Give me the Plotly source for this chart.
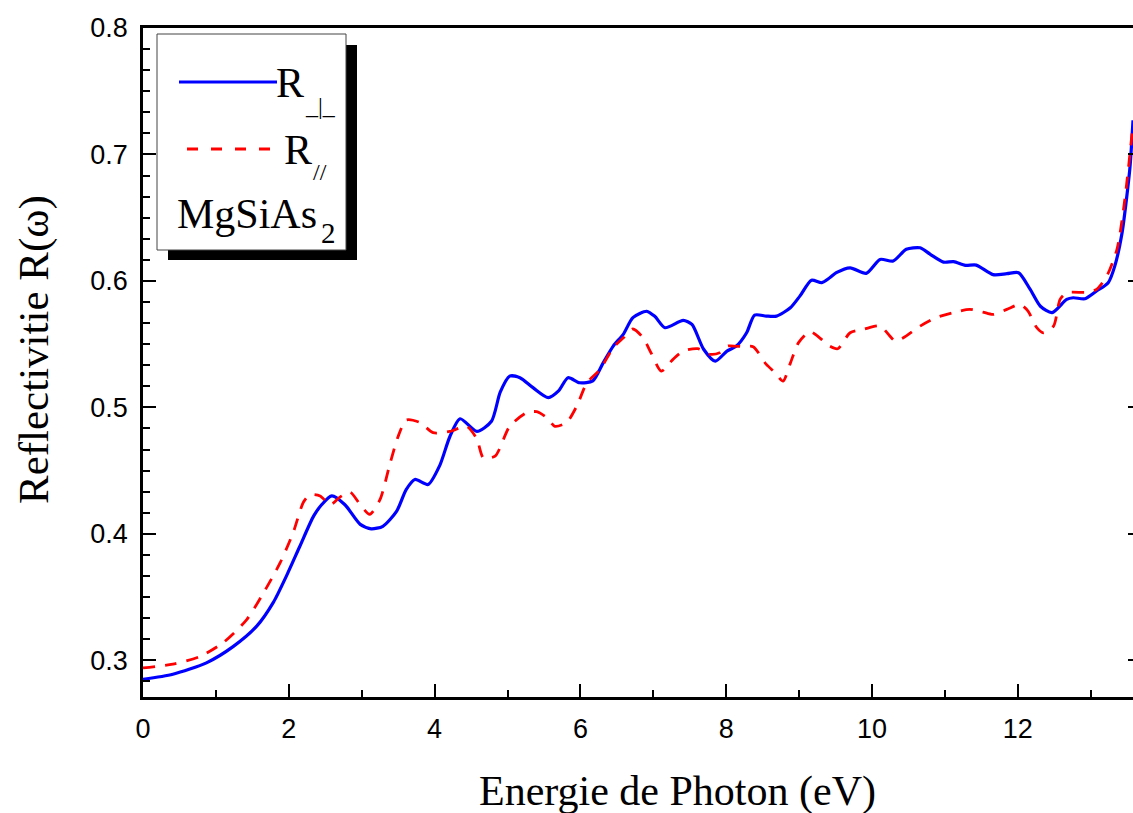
import plotly.graph_objects as go

# ---- data ----
x_perp = [0, 0.41, 0.87, 1.24, 1.56, 1.79, 1.97, 2.15, 2.34, 2.45, 2.59, 2.77, 2.98, 3.13,
          3.29, 3.48, 3.61, 3.73, 3.91, 4.07, 4.21, 4.35, 4.58, 4.78, 4.90, 5.03, 5.17, 5.35,
          5.56, 5.70, 5.83, 5.99, 6.17, 6.31, 6.45, 6.59, 6.72, 6.91, 7.02, 7.16, 7.41, 7.53,
          7.69, 7.85, 8.01, 8.14, 8.28, 8.39, 8.55, 8.69, 8.88, 9.01, 9.17, 9.31, 9.42, 9.51,
          9.70, 9.92, 10.11, 10.29, 10.47, 10.66, 10.80, 10.98, 11.12, 11.28, 11.43, 11.66,
          11.85, 12.01, 12.17, 12.31, 12.47, 12.67, 12.76, 12.92, 13.08, 13.24, 13.33, 13.43,
          13.49, 13.54, 13.58]
r_perp = [0.285, 0.289, 0.298, 0.311, 0.327, 0.346, 0.367, 0.390, 0.414, 0.423, 0.430, 0.423,
          0.4075, 0.404, 0.406, 0.418, 0.435, 0.443, 0.439, 0.454, 0.477, 0.491, 0.481, 0.489,
          0.512, 0.5247, 0.5235, 0.5156, 0.5077, 0.513, 0.5235, 0.5195, 0.521, 0.535, 0.5485,
          0.558, 0.571, 0.576, 0.572, 0.563, 0.5688, 0.5656, 0.546, 0.5366, 0.5445, 0.5485,
          0.559, 0.573, 0.5722, 0.5722, 0.5788, 0.588, 0.6006, 0.5986, 0.6025, 0.6065, 0.6104,
          0.606, 0.617, 0.6157, 0.625, 0.6262, 0.621, 0.6149, 0.6152, 0.6123, 0.6125, 0.605,
          0.6057, 0.6065, 0.5933, 0.580, 0.5749, 0.5854, 0.5867, 0.5859, 0.592, 0.5986, 0.6117,
          0.638, 0.6644, 0.6907, 0.727]

x_par = [0, 0.41, 0.78, 1.10, 1.42, 1.65, 1.88, 2.06, 2.20, 2.29, 2.43, 2.57, 2.70, 2.84, 2.98,
         3.11, 3.25, 3.39, 3.50, 3.61, 3.80, 3.98, 4.21, 4.44, 4.58, 4.67, 4.83, 5.03, 5.26,
         5.40, 5.54, 5.65, 5.81, 5.95, 6.09, 6.27, 6.45, 6.59, 6.72, 6.86, 6.97, 7.11, 7.27,
         7.41, 7.61, 7.78, 7.91, 8.02, 8.23, 8.37, 8.55, 8.67, 8.78, 8.88, 8.99, 9.15, 9.24,
         9.42, 9.53, 9.70, 9.88, 10.11, 10.32, 10.43, 10.66, 10.88, 11.11, 11.34, 11.52, 11.66,
         11.85, 12.03, 12.14, 12.26, 12.35, 12.49, 12.58, 12.67, 12.95, 13.08, 13.22, 13.36,
         13.45, 13.52, 13.58]
r_par = [0.294, 0.297, 0.303, 0.314, 0.332, 0.353, 0.377, 0.401, 0.425, 0.431, 0.430, 0.423,
         0.429, 0.433, 0.423, 0.4155, 0.427, 0.456, 0.477, 0.490, 0.488, 0.480, 0.481, 0.485,
         0.475, 0.460, 0.4615, 0.485, 0.4958, 0.4966, 0.4918, 0.485, 0.488, 0.501, 0.5195,
         0.530, 0.5472, 0.555, 0.562, 0.555, 0.543, 0.5287, 0.538, 0.5445, 0.5464, 0.542,
         0.5432, 0.5485, 0.548, 0.548, 0.534, 0.5275, 0.5208, 0.535, 0.551, 0.560, 0.557,
         0.5485, 0.5464, 0.559, 0.5617, 0.5643, 0.5524, 0.555, 0.5643, 0.571, 0.5749, 0.5775,
         0.5754, 0.5735, 0.5775, 0.5814, 0.5762, 0.563, 0.559, 0.5643, 0.5854, 0.5906, 0.591,
         0.5933, 0.6038, 0.625, 0.6565, 0.6907, 0.724]

x_range = [0, 13.58]
y_range = [0.271, 0.8]
x_title = "Energie de Photon (eV)"
y_title = "Reflectivitie R(\u03c9)"
compound = "MgSiAs"

SERIF = "Liberation Serif, Times New Roman, serif"
SANS = "Liberation Sans, Arial, sans-serif"

# pixel -> paper helpers (plot area: left 143, right 1133, top 28, bottom 697)
L, R_, T, B = 143, 1133, 28, 697
def px(v):
    return (v - L) / (R_ - L)
def py(v):
    return (B - v) / (B - T)

fig = go.Figure()
fig.add_trace(go.Scatter(x=x_perp, y=r_perp, mode="lines", name="R_|_",
                         line=dict(color="#0000FF", width=3.2, shape="spline", smoothing=0.7),
                         showlegend=False))
fig.add_trace(go.Scatter(x=x_par, y=r_par, mode="lines", name="R//",
                         line=dict(color="#FF0000", width=2.8, dash="12px,10px",
                                   shape="spline", smoothing=0.7),
                         showlegend=False))
fig.add_trace(go.Scatter(x=[], y=[], yaxis="y2", showlegend=False, hoverinfo="skip"))

fig.update_layout(
    width=1133, height=813,
    margin=dict(l=L, r=1133 - R_, t=T, b=813 - B),
    paper_bgcolor="white", plot_bgcolor="white",
    xaxis=dict(range=x_range, dtick=2, tick0=0, ticks="inside", ticklen=13, tickwidth=2,
               tickcolor="black", showline=True, linewidth=2.5, linecolor="black",
               mirror=True, showgrid=False, zeroline=False,
               tickfont=dict(family=SANS, size=27, color="black"),
               ticklabelstandoff=6,
               minor=dict(dtick=1, ticks="inside", ticklen=7, tickwidth=2,
                          tickcolor="black", showgrid=False)),
    yaxis=dict(range=y_range, dtick=0.1, tick0=0, ticks="inside", ticklen=13, tickwidth=2,
               tickcolor="black", showline=True, linewidth=2.5, linecolor="black",
               mirror=False, showgrid=False, zeroline=False, tickformat=".1f",
               tickfont=dict(family=SANS, size=27, color="black"),
               ticklabelstandoff=7,
               minor=dict(dtick=0.1 / 6, ticks="inside", ticklen=7, tickwidth=2,
                          tickcolor="black", showgrid=False)),
    yaxis2=dict(range=y_range, overlaying="y", side="right", dtick=0.1, tick0=0,
                ticks="inside", ticklen=5, tickwidth=2, tickcolor="black",
                showline=False, showgrid=False, zeroline=False, showticklabels=False),
)

# legend box with shadow
fig.add_shape(type="rect", xref="paper", yref="paper",
              x0=px(168), x1=px(357), y0=py(260), y1=py(45),
              fillcolor="black", line=dict(width=0))
fig.add_shape(type="rect", xref="paper", yref="paper",
              x0=px(157), x1=px(346), y0=py(250), y1=py(34),
              fillcolor="white", line=dict(color="#444444", width=1))
fig.add_shape(type="line", xref="paper", yref="paper",
              x0=px(179), x1=px(277), y0=py(82), y1=py(82),
              line=dict(color="#0000FF", width=3.2))
fig.add_shape(type="line", xref="paper", yref="paper",
              x0=px(187), x1=px(272), y0=py(149), y1=py(149),
              line=dict(color="#FF0000", width=3, dash="11px,13px"))

def ann(text, x, y, size, xanchor="left", angle=0):
    fig.add_annotation(text=text, xref="paper", yref="paper", x=x, y=y,
                       xanchor=xanchor, yanchor="middle", showarrow=False,
                       textangle=angle, borderpad=0,
                       font=dict(family=SERIF, size=size, color="black"))

ann("R", px(275), py(83), 42)
ann("_|_", px(304), py(105.6), 24)
ann("R", px(283), py(150), 42)
ann("//", px(312), py(171.6), 24)
ann(compound, px(176), py(214.3), 42)
ann("2", px(320), py(233), 29)

# axis titles
ann(x_title, px(677), py(791), 42, xanchor="center")
ann(y_title, px(34), py(350), 43, xanchor="center", angle=-90)

fig.write_html("out.html")
